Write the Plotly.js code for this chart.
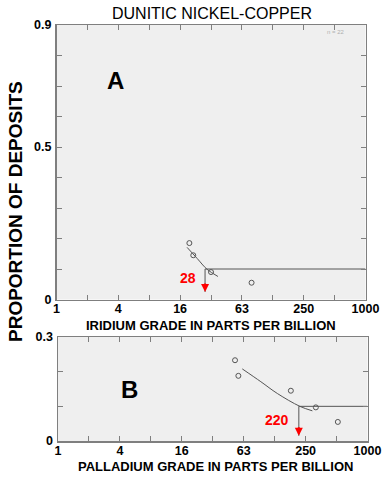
<!DOCTYPE html>
<html>
<head>
<meta charset="utf-8">
<script src="https://cdn.plot.ly/plotly-3.0.1.min.js"></script>
<style>
html,body{margin:0;padding:0;background:#fff;}
#chart{width:390px;height:488px;}
</style>
</head>
<body>
<div id="chart"></div>
<script>
// ---- Data ----
// Grade tick positions (log scale, doublings) and their labels
const gradeTicks = [1, 2, 4, 8, 16, 32, 64, 128, 256, 512, 1024];
const gradeTickText = ['1', '', '4', '', '16', '', '63', '', '250', '', '1000'];

// Panel A: iridium
const iridiumGrade = [19.7, 21.5, 32, 79.5];
const iridiumProportion = [0.185, 0.145, 0.09, 0.055];
const iridiumFitGrade = [18.7, 23.4, 29.3, 37.4];
const iridiumFitProportion = [0.171, 0.135, 0.099, 0.0755];
const iridiumCutoffGrade = 28;

// Panel B: palladium
const palladiumGrade = [52.7, 56.8, 184, 322, 527];
const palladiumProportion = [0.233, 0.188, 0.145, 0.097, 0.055];
const palladiumFitGrade = [62, 94, 136, 225, 298];
const palladiumFitProportion = [0.208, 0.171, 0.137, 0.100, 0.087];
const palladiumCutoffGrade = 220;

const cutoffProportion = 0.1;
const depositCount = 22;

const yTicksA = [0, 0.1, 0.2, 0.3, 0.4, 0.5, 0.6, 0.7, 0.8, 0.9];
const yTickTextA = ['0', '', '', '', '', '0.5', '', '', '', '0.9'];
const yTicksB = [0, 0.1, 0.2, 0.3];
const yTickTextB = ['0', '', '', '0.3'];

// ---- Styles ----
const W = 390, H = 488;
const FONT = 'Liberation Sans, Arial, sans-serif';
const frame = '#7f7f7f';
const ink = '#555555';
const red = '#ff0000';

function px(x) { return x / W; }
function py(y) { return 1 - y / H; }

const traces = [
  // Panel A
  {x: iridiumFitGrade, y: iridiumFitProportion, xaxis: 'x', yaxis: 'y', mode: 'lines',
   line: {color: ink, width: 1, shape: 'spline'}, hoverinfo: 'skip'},
  {x: [iridiumCutoffGrade, gradeTicks[gradeTicks.length - 1]], y: [cutoffProportion, cutoffProportion],
   xaxis: 'x', yaxis: 'y', mode: 'lines', line: {color: ink, width: 1}, hoverinfo: 'skip'},
  {x: [iridiumCutoffGrade, iridiumCutoffGrade], y: [cutoffProportion, 0.025],
   xaxis: 'x', yaxis: 'y', mode: 'lines', line: {color: ink, width: 1}, hoverinfo: 'skip'},
  {x: iridiumGrade, y: iridiumProportion, xaxis: 'x', yaxis: 'y', mode: 'markers',
   marker: {symbol: 'circle-open', size: 5, color: ink, line: {width: 1, color: ink}}},
  // Panel B
  {x: palladiumFitGrade, y: palladiumFitProportion, xaxis: 'x2', yaxis: 'y2', mode: 'lines',
   line: {color: ink, width: 1, shape: 'spline'}, hoverinfo: 'skip'},
  {x: [palladiumCutoffGrade, gradeTicks[gradeTicks.length - 1]], y: [cutoffProportion, cutoffProportion],
   xaxis: 'x2', yaxis: 'y2', mode: 'lines', line: {color: ink, width: 1}, hoverinfo: 'skip'},
  {x: [palladiumCutoffGrade, palladiumCutoffGrade], y: [cutoffProportion, 0.015],
   xaxis: 'x2', yaxis: 'y2', mode: 'lines', line: {color: ink, width: 1}, hoverinfo: 'skip'},
  {x: palladiumGrade, y: palladiumProportion, xaxis: 'x2', yaxis: 'y2', mode: 'markers',
   marker: {symbol: 'circle-open', size: 5, color: ink, line: {width: 1, color: ink}}}
];

const logRange = [0, Math.log10(gradeTicks[gradeTicks.length - 1])];
const tickFont = {family: FONT, size: 12.5, color: '#000', weight: 'bold'};

function xAxis(domain, anchor) {
  return {
    type: 'log', range: logRange, domain: domain, anchor: anchor,
    tickmode: 'array', tickvals: gradeTicks, ticktext: gradeTickText,
    ticks: 'inside', ticklen: 5, tickcolor: frame, tickwidth: 1,
    showline: true, linecolor: frame, linewidth: 1.5, mirror: 'allticks',
    showgrid: false, zeroline: false, tickfont: tickFont, fixedrange: true,
    ticklabelstandoff: -3
  };
}
function yAxis(domain, anchor, range, vals, text) {
  return {
    range: range, domain: domain, anchor: anchor,
    tickmode: 'array', tickvals: vals, ticktext: text,
    ticks: 'inside', ticklen: 5, tickcolor: frame, tickwidth: 1,
    showline: true, linecolor: frame, linewidth: 1.5, mirror: 'allticks',
    showgrid: false, zeroline: false, tickfont: tickFont, fixedrange: true,
    ticklabelstandoff: 1
  };
}

const layout = {
  width: W, height: H,
  margin: {l: 0, r: 0, t: 0, b: 0, pad: 0},
  paper_bgcolor: '#ffffff',
  plot_bgcolor: '#efefef',
  showlegend: false,
  title: {text: 'DUNITIC NICKEL-COPPER', x: px(212), y: py(13), xanchor: 'center', yanchor: 'middle',
          xref: 'paper', yref: 'container',
          font: {family: FONT, size: 16, color: '#000'}},
  xaxis: xAxis([px(56.5), px(365.5)], 'y'),
  yaxis: yAxis([py(299.5), py(25)], 'x', [0, 0.9], yTicksA, yTickTextA),
  xaxis2: xAxis([px(58), px(367.5)], 'y2'),
  yaxis2: yAxis([py(441), py(337)], 'x2', [0, 0.3], yTicksB, yTickTextB),
  annotations: [
    {text: 'PROPORTION OF DEPOSITS', xref: 'paper', yref: 'paper', x: px(16), y: py(212),
     textangle: -90, showarrow: false, xanchor: 'center', yanchor: 'middle',
     font: {family: FONT, size: 19, color: '#000', weight: 'bold'}},
    {text: 'IRIDIUM GRADE IN PARTS PER BILLION', xref: 'paper', yref: 'paper', x: px(211), y: py(325),
     showarrow: false, xanchor: 'center', yanchor: 'middle',
     font: {family: FONT, size: 13, color: '#000', weight: 'bold'}},
    {text: 'PALLADIUM GRADE IN PARTS PER BILLION', xref: 'paper', yref: 'paper', x: px(215), y: py(466),
     showarrow: false, xanchor: 'center', yanchor: 'middle',
     font: {family: FONT, size: 13, color: '#000', weight: 'bold'}},
    {text: 'A', xref: 'paper', yref: 'paper', x: px(115), y: py(81), showarrow: false,
     xanchor: 'center', yanchor: 'middle', font: {family: FONT, size: 24, color: '#000', weight: 'bold'}},
    {text: 'B', xref: 'paper', yref: 'paper', x: px(129), y: py(389), showarrow: false,
     xanchor: 'center', yanchor: 'middle', font: {family: FONT, size: 24, color: '#000', weight: 'bold'}},
    {text: 'n = ' + depositCount, xref: 'paper', yref: 'paper', x: px(336), y: py(32), showarrow: false,
     xanchor: 'center', yanchor: 'middle', font: {family: FONT, size: 6, color: '#b0b0b0'}},
    // cutoff labels
    {text: String(iridiumCutoffGrade), xref: 'x', yref: 'y', x: Math.log10(iridiumCutoffGrade), y: 0.069,
     xanchor: 'right', yanchor: 'middle', xshift: -7, showarrow: false,
     font: {family: FONT, size: 14, color: red, weight: 'bold'}},
    {text: String(palladiumCutoffGrade), xref: 'x2', yref: 'y2', x: Math.log10(palladiumCutoffGrade), y: 0.0606,
     xanchor: 'right', yanchor: 'middle', xshift: -7.5, showarrow: false,
     font: {family: FONT, size: 14, color: red, weight: 'bold'}},
    // red arrows
    {text: '', xref: 'x', yref: 'y', x: Math.log10(iridiumCutoffGrade), y: 0.025,
     showarrow: true, ax: 0, ay: -10, arrowhead: 2, arrowsize: 0.8, arrowwidth: 2, arrowcolor: red},
    {text: '', xref: 'x2', yref: 'y2', x: Math.log10(palladiumCutoffGrade), y: 0.015,
     showarrow: true, ax: 0, ay: -10, arrowhead: 2, arrowsize: 0.8, arrowwidth: 2, arrowcolor: red}
  ]
};

Plotly.newPlot('chart', traces, layout, {staticPlot: true, displayModeBar: false});
</script>
</body>
</html>
